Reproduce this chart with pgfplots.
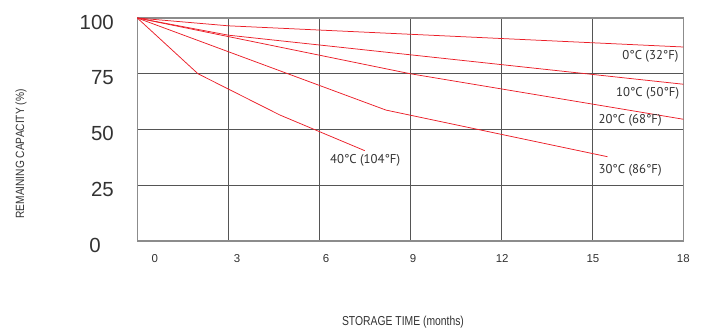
\documentclass[border=0pt]{standalone}
\usepackage{fontspec}
\setmainfont{Liberation Sans}
\newfontfamily\labelfont{PT Sans}
\usepackage{graphicx}
\usepackage{pgfplots}
\pgfplotsset{compat=1.18}
\definecolor{curve}{RGB}{235,30,40}
\definecolor{txt}{RGB}{50,50,50}
\definecolor{gridc}{RGB}{85,85,85}
\definecolor{framec}{RGB}{140,140,140}
\begin{document}
\begin{tikzpicture}
\path[use as bounding box] (-137.3bp,-89bp) rectangle (569.7bp,241bp);
\begin{axis}[
  at={(0,0)}, anchor=south west,
  scale only axis, width=546bp, height=223bp,
  xmin=0, xmax=18, ymin=0, ymax=100,
  xtick={3,6,9,12,15}, xticklabels={},
  ytick={0,25,50,75,100},
  yticklabels={0\rule{13bp}{0pt},25,50,75,100},
  major tick length=0pt,
  grid=major,
  major grid style={gridc, line width=0.9bp},
  axis line style={framec, line width=1.3bp},
  /pgf/number format/assume math mode=true,
  yticklabel style={font=\fontsize{20.5}{20.5}\selectfont, text=txt, xshift=-20bp, yshift=-4bp},
  extra x ticks={0.58,3.29,6.22,9.09,12.03,15.02,18},
  extra x tick labels={0,3,6,9,12,15,18},
  extra x tick style={grid=none, major tick length=0pt,
    xticklabel style={font=\fontsize{11.5}{11.5}\selectfont, text=txt, yshift=-10bp}},
  clip=false,
  cycle list={{curve, line width=0.75bp}},
]
% 0 C
\addplot[curve, line width=0.75bp] coordinates {(0,100) (3,96.5) (18,87)};
% 10 C
\addplot[curve, line width=0.75bp] coordinates {(0,100) (3,92.3) (18,70.3)};
% 20 C
\addplot[curve, line width=0.75bp] coordinates {(0,100) (9,75) (18,54.6)};
% 30 C
\addplot[curve, line width=0.75bp] coordinates {(0,100) (8.2,58.7) (15.5,37.8)};
% 40 C
\addplot[curve, line width=0.75bp] coordinates {(0,100) (2,75) (4.7,56.5) (7.5,40.5)};
\begin{scope}[every node/.style={font=\labelfont\fontsize{12.8}{12.8}\selectfont, text=txt, inner sep=0pt}]
\node[anchor=east] at (axis cs:17.85,82.6) {0°C (32°F)};
\node[anchor=east] at (axis cs:17.87,66.2) {10°C (50°F)};
\node[anchor=west] at (axis cs:15.2,53.9) {20°C (68°F)};
\node[anchor=west] at (axis cs:15.2,31.8) {30°C (86°F)};
\node[anchor=west] at (axis cs:6.35,36.0) {40°C (104°F)};
\end{scope}
\end{axis}
\node[rotate=90, text=txt, inner sep=0pt] at (-116.3bp,87bp) {\scalebox{0.85}[1]{\fontsize{12}{12}\selectfont REMAINING CAPACITY (\%)}};
\node[text=txt, inner sep=0pt] at (265.7bp,-80.7bp) {\scalebox{0.8}[1]{\fontsize{13}{13}\selectfont STORAGE TIME (months)}};
\end{tikzpicture}
\end{document}
